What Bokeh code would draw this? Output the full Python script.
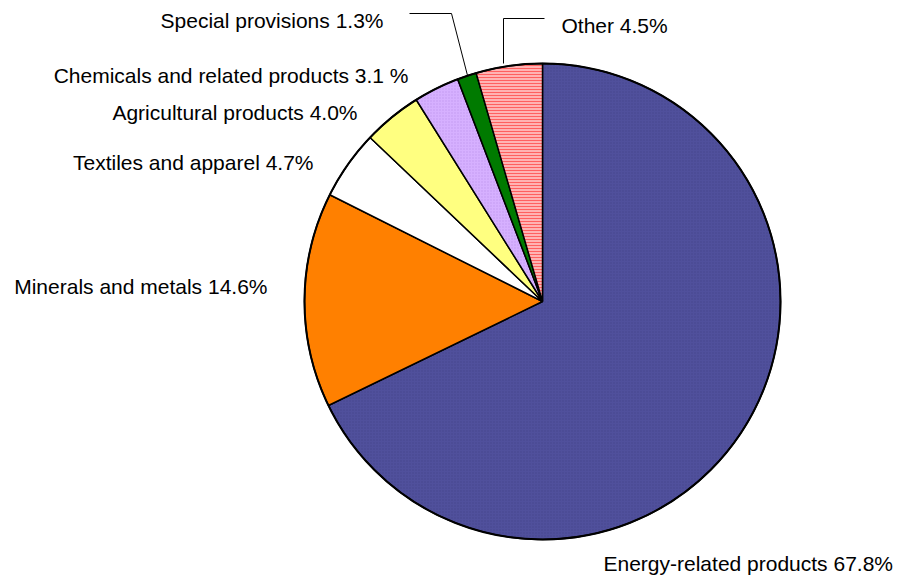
import math
from bokeh.plotting import figure
from bokeh.models import Range1d, ColumnDataSource
from bokeh.core.properties import value
from bokeh.embed import file_html
from bokeh.resources import INLINE

# data
categories = ["Energy-related products", "Minerals and metals", "Textiles and apparel",
              "Agricultural products", "Chemicals and related products",
              "Special provisions", "Other"]
shares = [67.8, 14.6, 4.7, 4.0, 3.1, 1.3, 4.5]
label_texts = ["Energy-related products 67.8%", "Minerals and metals 14.6%",
               "Textiles and apparel 4.7%", "Agricultural products 4.0%",
               "Chemicals and related products 3.1 %", "Special provisions 1.3%",
               "Other 4.5%"]

# styling
fills = ["#50509C", "#FF8000", "#FFFFFF", "#FFFF80", "#D6B0FF", "#007A00", "#FFB3B3"]
hatches = ["dot", " ", " ", " ", "dot", " ", "horizontal_line"]
hatch_colors = ["#44448C", "#FF8000", "#FFFFFF", "#FFFF80", "#C299F0", "#007A00", "#FF6060"]

W, H = 905, 579
p = figure(width=W, height=H, output_backend="svg", toolbar_location=None,
           x_range=Range1d(0, W), y_range=Range1d(0, H),
           min_border=0)
p.axis.visible = False
p.grid.visible = False
p.outline_line_color = None

cx, cy, r = 542, H - 301, 238

# wedges clockwise from 12 o'clock
total = sum(shares)
starts, ends = [], []
a = 90.0
for s in shares:
    starts.append(math.radians(a))
    a -= 360.0 * s / total
    ends.append(math.radians(a))

src = ColumnDataSource(dict(start=starts, end=ends, fill=fills, hatch=hatches, hc=hatch_colors))
p.wedge(x=cx, y=cy, radius=r, start_angle="start", end_angle="end", direction="clock",
        fill_color="fill", hatch_pattern="hatch", hatch_color="hc", hatch_scale=3,
        hatch_weight=1, line_color="black", line_width=1.5, source=src)
p.circle(x=cx, y=cy, radius=r, fill_color=None, line_color="black", line_width=2)

# leader lines
p.line(x=[409, 451, 467], y=[H - 13, H - 13, H - 75], line_color="black", line_width=1)
p.line(x=[503, 503, 544], y=[H - 63, H - 18, H - 18], line_color="black", line_width=1)

# labels
lx = [603, 267, 313, 357, 408, 383, 561]
ly = [563, 286, 162, 112, 75, 20, 25]
align = ["left", "right", "right", "right", "right", "right", "left"]
lsrc = ColumnDataSource(dict(x=lx, y=[H - v for v in ly], t=label_texts, a=align))
p.text(x="x", y="y", text="t", text_align="a", text_baseline="middle",
       text_font=value("Liberation Sans"), text_font_size="21px", text_color="black",
       source=lsrc)

open("out.html", "w").write(file_html(p, INLINE))
